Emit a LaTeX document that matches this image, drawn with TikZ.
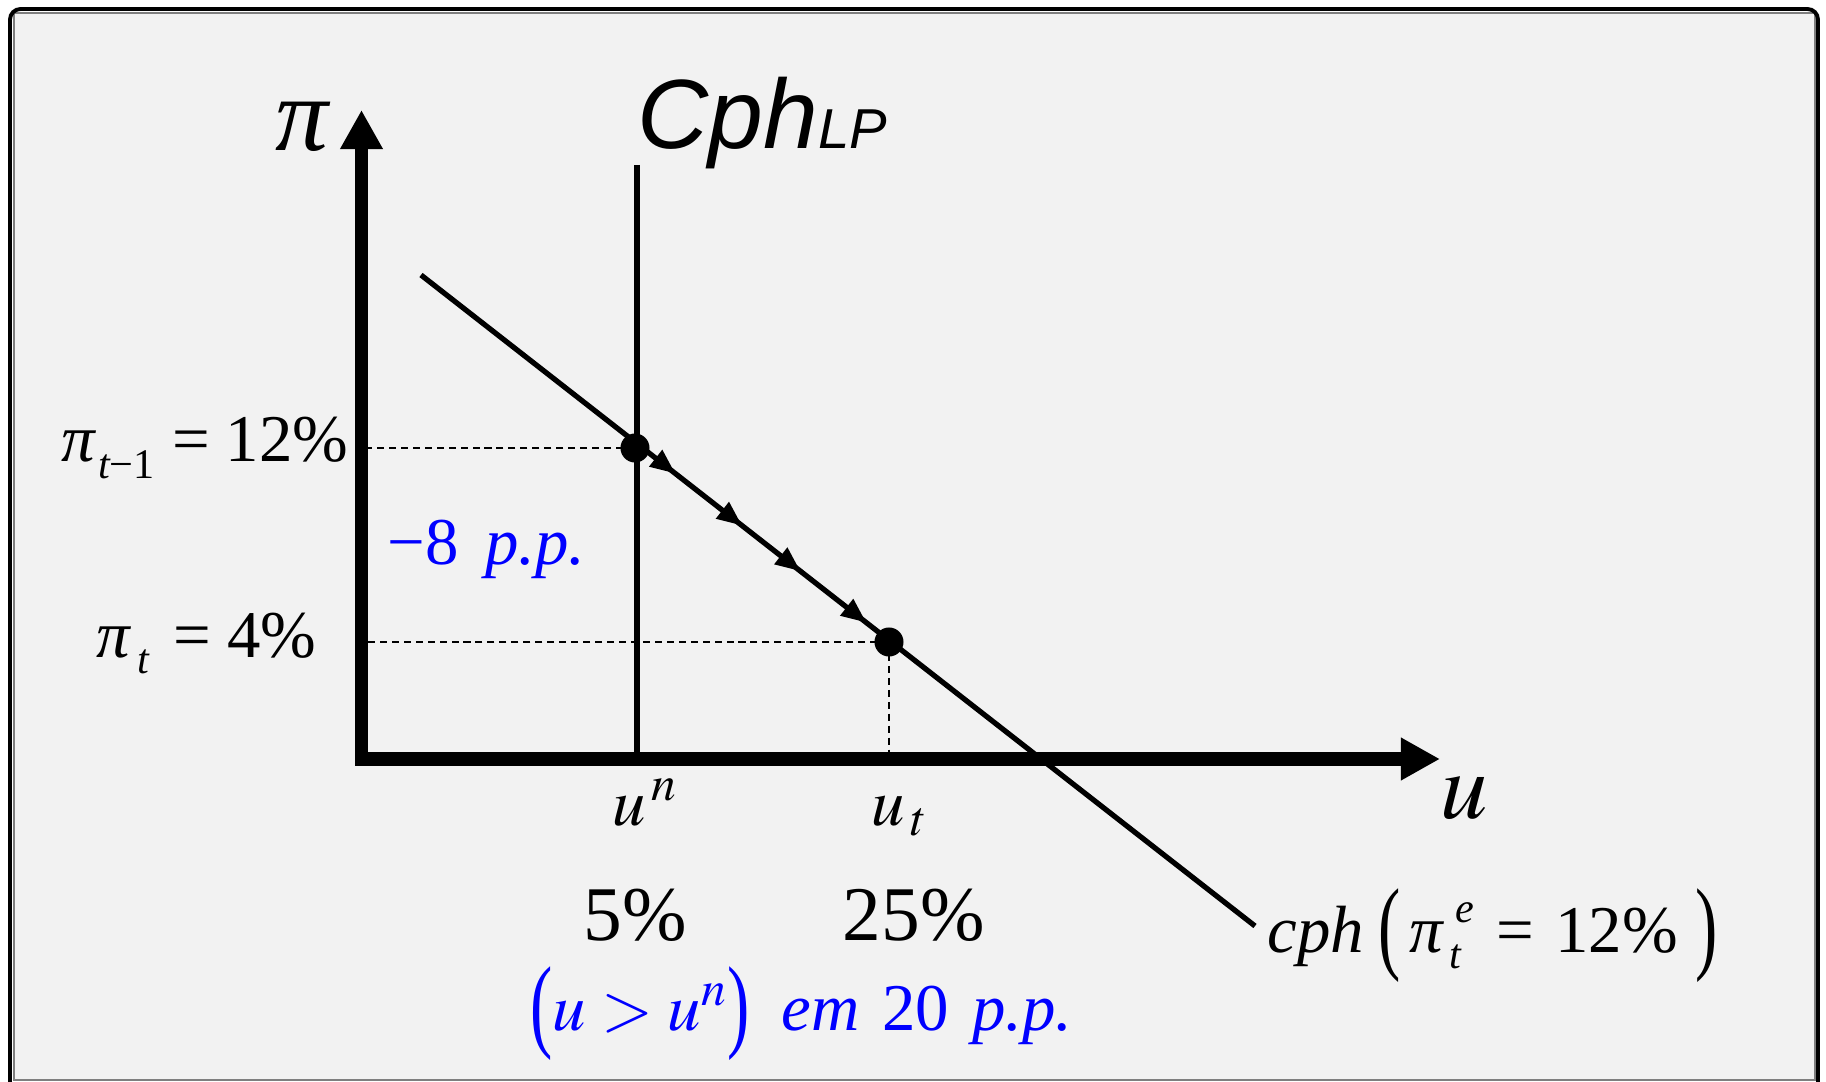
\documentclass[tikz,border=0pt]{standalone}
\usepackage{mathptmx}
\usepackage[no-math]{fontspec}
\setmainfont{Liberation Serif}
\newfontfamily\titlefont{Liberation Sans}
\usepackage{graphicx}
\usetikzlibrary{arrows.meta,decorations.markings,positioning}
\definecolor{panelgray}{HTML}{F2F2F2}
\definecolor{framegray}{HTML}{7F7F7F}
\newcommand{\tallparen}[1]{\raisebox{-2.4pt}{\scalebox{1}[1.55]{#1}}}
\newcommand{\lowidx}[1]{\raisebox{-4.8pt}{\fontsize{12}{12}\selectfont #1}}
\newcommand{\supsub}[2]{\makebox[0pt][l]{\hspace{1.6pt}\raisebox{8.5pt}{\fontsize{12}{12}\selectfont\itshape #1}}\lowidx{\itshape #2}}
\tikzset{
  axis/.style={line width=3.7pt, line join=miter,
    {Triangle[length=3.9mm,width=4mm]}-{Triangle[length=3.9mm,width=4mm]}},
  curve/.style={line width=1.5pt},
  guide/.style={line width=0.55pt, dash pattern=on 2pt off 1.4pt},
  dot/.style={circle, fill=black, inner sep=0pt, minimum size=2.9mm},
  lbl/.style={inner sep=0pt},
  flow/.style={postaction=decorate, decoration={markings,
    mark=at position 0.305 with {\arrow{Triangle[length=2.5mm,width=2mm]}},
    mark=at position 0.385 with {\arrow{Triangle[length=2.5mm,width=2mm]}},
    mark=at position 0.455 with {\arrow{Triangle[length=2.5mm,width=2mm]}},
    mark=at position 0.534 with {\arrow{Triangle[length=2.5mm,width=2mm]}}}}
}

\begin{document}
\begin{tikzpicture}[x=0.01cm, y=-0.01cm, font=\fontsize{19}{22}\selectfont]
  \useasboundingbox (0,0) rectangle (1826,1082);
  % panel and frame
  \fill[panelgray] (14,13) rectangle (1815,1080);
  \draw[framegray, line width=0.55pt] (14,13) rectangle (1815,1080);
  \draw[line width=1.1pt, rounded corners=3pt] (10,1100) -- (10,9) -- (1818,9) -- (1818,1100);

  \coordinate (O) at (361.5,759);
  \coordinate (ytip) at (361.5,110);
  \coordinate (xtip) at (1440,759);
  \coordinate (lptop) at (637,165);
  \coordinate (c1) at (421,275);
  \coordinate (c2) at (1255,926);
  \coordinate (p0) at (635,448);
  \coordinate (p1) at (889,642);

  % guides
  \draw[guide] (p0) -- (p0 -| O);
  \draw[guide] (p1) -- (p1 -| O);
  \draw[guide] (p1) -- (p1 |- O);

  % curves
  \draw[curve] (lptop) -- (lptop |- O);
  \draw[curve, flow] (c1) -- (c2);

  \node[dot] (e0) at (p0) {};
  \node[dot] (e1) at (p1) {};

  % axes
  \draw[axis] (ytip) |- (xtip);

  % labels
  \node[lbl, anchor=base] (pilab) at (302,151) {\fontsize{30}{30}\selectfont\itshape π};
  \node[lbl, anchor=base west] (cphlp) at (637,149)
    {\titlefont\itshape\fontsize{28}{28}\selectfont Cph\fontsize{16}{16}\selectfont LP};
  \node[lbl, anchor=base east] (pi0) at (349,462)
    {{\itshape π}\hspace{1pt}\lowidx{\itshape t\upshape −1}\hspace{5pt}=\hspace{4.5pt}12\%};
  \node[lbl, anchor=base east] (pi1) at (317,657)
    {{\itshape π}\hspace{2pt}\lowidx{\itshape t}\hspace{7pt}=\hspace{4.5pt}4\%};
  \node[lbl, anchor=base west, text=blue] (drop) at (387,564) {−8\hspace{7.5pt}\textit{p.p.}};
  \node[lbl, anchor=base west] (un) at (612,825) {$u^{\,n}$};
  \node[lbl, anchor=base west] (ut) at (871,825) {$u_{\,t}$};
  \node[lbl, anchor=base west] (ulab) at (1440,818) {\fontsize{27}{27}\selectfont$u$};
  \node[lbl, anchor=base west] (five) at (583,940) {\fontsize{22}{22}\selectfont 5\%};
  \node[lbl, anchor=base west] (twentyfive) at (842,940) {\fontsize{22}{22}\selectfont 25\%};
  \node[lbl, anchor=base west, text=blue] (gap) at (530,1030)
    {\tallparen{(}$u>u^{n}$\tallparen{)}\hspace{9pt}\textit{em}\hspace{6.5pt}20\hspace{6.5pt}\textit{p.p.}};
  \node[lbl, anchor=base west] (cphlab) at (1267,952)
    {\textit{cph}\hspace{4pt}\tallparen{(}\hspace{2.5pt}{\itshape π}\hspace{2pt}\supsub{e}{t}\hspace{10pt}=\hspace{6pt}12\%\hspace{5pt}\tallparen{)}};
\end{tikzpicture}
\end{document}
